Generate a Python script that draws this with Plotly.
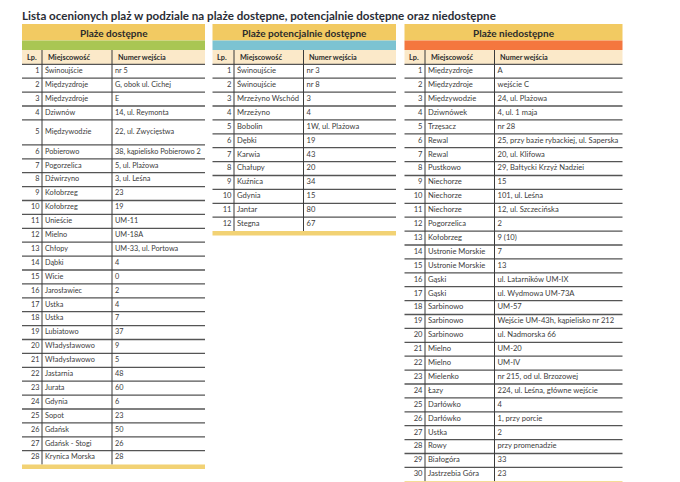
import plotly.graph_objects as go

title = "Lista ocenionych plaż w podziale na plaże dostępne, potencjalnie dostępne oraz niedostępne"
col_headers = ["Lp.", "Miejscowość", "Numer wejścia"]

left_title = "Plaże dostępne"
left_places = [
    "Świnoujście", "Międzyzdroje", "Międzyzdroje", "Dziwnów", "Międzywodzie",
    "Pobierowo", "Pogorzelica", "Dźwirzyno", "Kołobrzeg", "Kołobrzeg",
    "Unieście", "Mielno", "Chłopy", "Dąbki", "Wicie", "Jarosławiec", "Ustka",
    "Ustka", "Lubiatowo", "Władysławowo", "Władysławowo", "Jastarnia",
    "Jurata", "Gdynia", "Sopot", "Gdańsk", "Gdańsk - Stogi", "Krynica Morska",
]
left_entries = [
    "nr 5", "G, obok ul. Cichej", "E", "14, ul. Reymonta", "22, ul. Zwycięstwa",
    "38, kąpielisko Pobierowo 2", "5, ul. Plażowa", "3, ul. Leśna", "23", "19",
    "UM-11", "UM-18A", "UM-33, ul. Portowa", "4", "0", "2", "4", "7", "37",
    "9", "5", "48", "60", "6", "23", "50", "26", "28",
]

mid_title = "Plaże potencjalnie dostępne"
mid_places = [
    "Świnoujście", "Świnoujście", "Mrzeżyno Wschód", "Mrzeżyno", "Bobolin",
    "Dębki", "Karwia", "Chałupy", "Kuźnica", "Gdynia", "Jantar", "Stegna",
]
mid_entries = ["nr 3", "nr 8", "3", "4", "1W, ul. Plażowa", "19", "43", "20", "34", "15", "80", "67"]

right_title = "Plaże niedostępne"
right_places = [
    "Międzyzdroje", "Międzyzdroje", "Międzywodzie", "Dziwnówek", "Trzęsacz",
    "Rewal", "Rewal", "Pustkowo", "Niechorze", "Niechorze", "Niechorze",
    "Pogorzelica", "Kołobrzeg", "Ustronie Morskie", "Ustronie Morskie", "Gąski",
    "Gąski", "Sarbinowo", "Sarbinowo", "Sarbinowo", "Mielno", "Mielno",
    "Mielenko", "Łazy", "Darłówko", "Darłówko", "Ustka", "Rowy", "Białogóra",
    "Jastrzebia Góra",
]
right_entries = [
    "A", "wejście C", "24, ul. Plażowa", "4, ul. 1 maja", "nr 28",
    "25, przy bazie rybackiej, ul. Saperska", "20, ul. Klifowa",
    "29, Bałtycki Krzyż Nadziei", "15", "101, ul. Leśna", "12, ul. Szczecińska",
    "2", "9 (10)", "7", "13", "ul. Latarników UM-IX", "ul. Wydmowa UM-73A",
    "UM-57", "Wejście UM-43h, kąpielisko nr 212", "ul. Nadmorska 66", "UM-20",
    "UM-IV", "nr 215, od ul. Brzozowej", "224, ul. Leśna, główne wejście", "4",
    "1, przy porcie", "2", "przy promenadzie", "33", "23",
]

FONT = "Lato, 'Open Sans', sans-serif"
YELLOW = "#f2ca62"
BEIGE = "#fbe9c9"
BAR = "#f2d274"
LINE = "#555555"
TEXT = "#3c3c3c"

# page has an 8px body margin, so the axes start at 8
OFF = 8
ROW_H = 13.9
TOP = 24
BAND_BOT = 40.5
STRIPE_BOT = 50
HEAD_BOT = 64.3

tables = [
    dict(title=left_title, places=left_places, entries=left_entries,
         cols=[22, 42, 112, 205], stripe="#a9c653", tall={5: 25}, size=7.3),
    dict(title=mid_title, places=mid_places, entries=mid_entries,
         cols=[212.5, 234, 303.5, 396], stripe="#7cc3d2", tall={}, size=7.6),
    dict(title=right_title, places=right_places, entries=right_entries,
         cols=[404.5, 425, 494.5, 622.5], stripe="#f4773f", tall={}, size=7.6),
]

fig = go.Figure()
shapes = []
annotations = []

for t in tables:
    x0, xa, xb, x1 = t["cols"]
    n = len(t["places"])
    fs = t["size"]
    # row boundaries
    edges = [HEAD_BOT]
    for i in range(n):
        edges.append(edges[-1] + t["tall"].get(i + 1, ROW_H))
    mids = [(edges[i] + edges[i + 1]) / 2 for i in range(n)]
    bottom = edges[-1]

    shapes.append(dict(type="rect", x0=x0, x1=x1, y0=TOP, y1=BAND_BOT,
                       fillcolor=YELLOW, line_width=0, layer="below"))
    shapes.append(dict(type="rect", x0=x0, x1=x1, y0=BAND_BOT, y1=STRIPE_BOT,
                       fillcolor=t["stripe"], line_width=0, layer="below"))
    shapes.append(dict(type="rect", x0=x0, x1=x1, y0=STRIPE_BOT, y1=HEAD_BOT,
                       fillcolor=BEIGE, line_width=0, layer="below"))
    # horizontal rules
    for y in edges[:-1]:
        shapes.append(dict(type="line", x0=x0, x1=x1, y0=y, y1=y,
                           line=dict(color=LINE, width=1.3)))
    # vertical rules
    for x in (xa, xb):
        shapes.append(dict(type="line", x0=x, x1=x, y0=STRIPE_BOT, y1=bottom,
                           line=dict(color="#3a3a3a", width=1)))
    # closing bar
    shapes.append(dict(type="rect", x0=x0, x1=x1, y0=bottom, y1=bottom + 4.5,
                       fillcolor=BAR, line_width=0))

    annotations.append(dict(x=(x0 + x1) / 2, y=(TOP + BAND_BOT) / 2 + 0.5, text=f"<b>{t['title']}</b>",
                            showarrow=False, xanchor="center", yanchor="middle",
                            font=dict(family=FONT, size=10, color="#2b2b2b")))
    hy = (STRIPE_BOT + HEAD_BOT) / 2
    for txt, x in zip(col_headers, (x0 + 2.5, xa + 3.5, xb + 3.5)):
        annotations.append(dict(x=x, y=hy, text=f"<b>{txt}</b>", showarrow=False,
                                xanchor="left", yanchor="middle",
                                font=dict(family=FONT, size=7.3, color="#2b2b2b")))

    fig.add_trace(go.Scatter(
        x=[xa - 2.5] * n, y=mids, text=[str(i + 1) for i in range(n)],
        mode="text", textposition="middle left", hoverinfo="skip",
        textfont=dict(family=FONT, size=fs, color=TEXT)))
    fig.add_trace(go.Scatter(
        x=[xa + 3] * n, y=mids, text=t["places"],
        mode="text", textposition="middle right", hoverinfo="skip",
        textfont=dict(family=FONT, size=fs, color=TEXT)))
    fig.add_trace(go.Scatter(
        x=[xb + 3] * n, y=mids, text=t["entries"],
        mode="text", textposition="middle right", hoverinfo="skip",
        textfont=dict(family=FONT, size=fs, color=TEXT)))

# title sits as high as the page margin allows
annotations.append(dict(x=21, y=OFF, text=f"<b>{title}</b>", showarrow=False,
                        xanchor="left", yanchor="top", borderpad=0,
                        font=dict(family=FONT, size=11.6, color="#2a2d36")))

fig.update_layout(
    width=680 - OFF, height=482 - OFF,
    margin=dict(l=0, r=0, t=0, b=0),
    paper_bgcolor="white", plot_bgcolor="white",
    showlegend=False,
    xaxis=dict(range=[OFF, 680], visible=False, fixedrange=True),
    yaxis=dict(range=[482, OFF], visible=False, fixedrange=True),
    shapes=shapes, annotations=annotations,
)

fig.write_html("out.html")
